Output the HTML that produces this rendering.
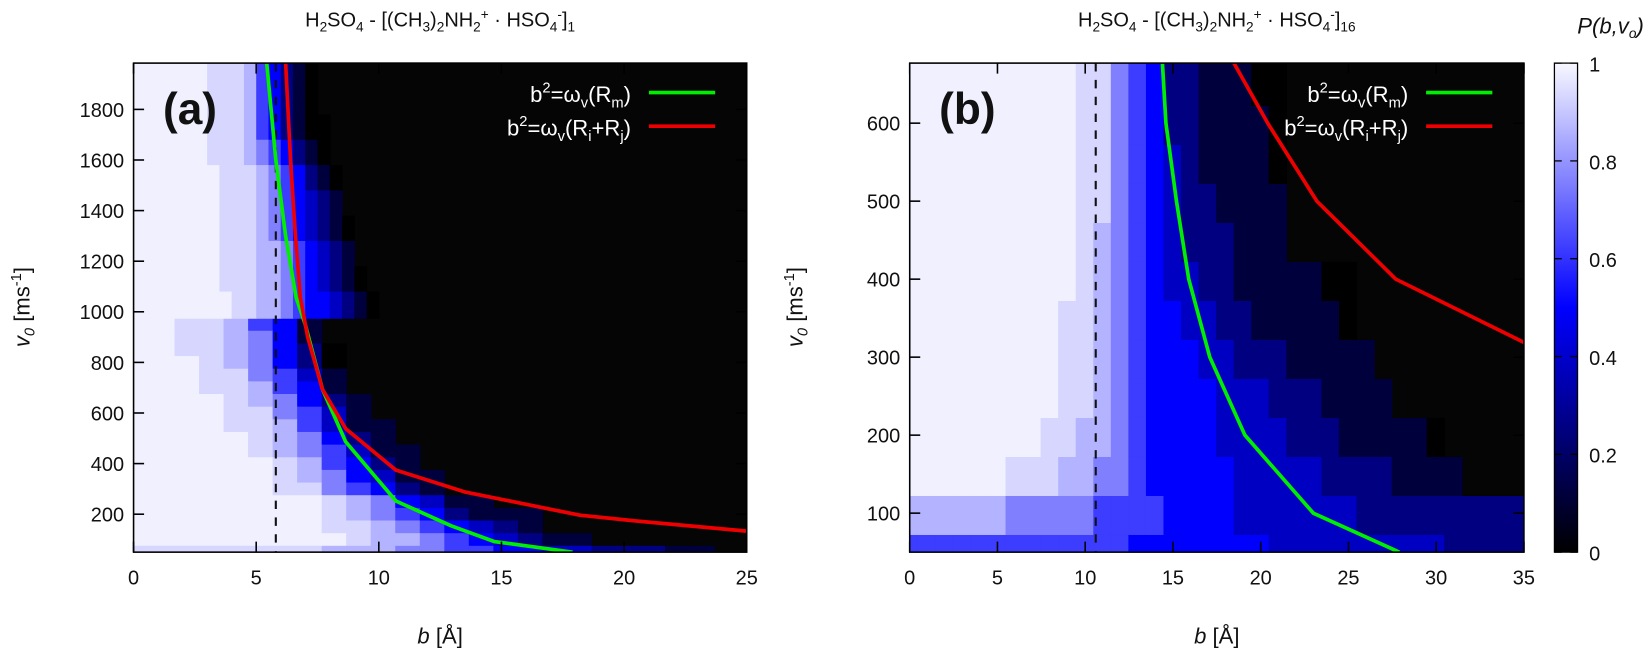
<!DOCTYPE html>
<html><head><meta charset="utf-8"><style>
html,body{margin:0;padding:0;background:#fff;overflow:hidden;}
svg{display:block;font-family:"Liberation Sans",Arial,sans-serif;}
</style></head><body>
<svg id="fig" width="1649" height="662" viewBox="0 0 1649 662" xmlns="http://www.w3.org/2000/svg">
<defs>
<clipPath id="clipA"><rect x="127" y="60" width="583" height="465"/></clipPath>
<clipPath id="clipB"><rect x="865" y="60" width="584" height="465"/></clipPath>
<linearGradient id="cbGrad" x1="0" y1="1" x2="0" y2="0">
<stop offset="0" stop-color="#000"/><stop offset="0.5" stop-color="#0000ff"/><stop offset="1" stop-color="#f8f8ff"/>
</linearGradient>
</defs>
<g transform="scale(1.0517)">
<g id="panelA"></g>
<g id="panelB"></g>
<g id="cbar"></g>
</g>
</svg>
<script>
// ---------- Panel (a) data ----------
const aLowEdges=[975,925,875,825,775,725,675,625,575,525,475,425,375,325,275,225,175,125,75,50];
const aLowRows=[
"99887541","99887641","998876420","999876420","999886531","999887541",
"9999876421","9999886531","99998875311","99999876421","999998765311",
"999999875421","9999998764311","9999998865421","999999998764311",
"99999999876542111","99999999887654321","9999999998776543211",
"888888887776655443322211"];
const aUpEdges=[1983,1880,1780,1680,1580,1480,1380,1280,1180,1080,975];
const aUpRows=[
"999999888754210","999999888754210","9999998887542100","9999998887654210",
"99999998887654210","99999998887654321","999999988876543210","999999988877654321",
"9999999888776543210","99999999887765443210"];
const aGreenB=[5.43,5.8,6.2,6.63,7.0,7.7,8.65,10.7,12.95,14.7,17.9];
const aGreenV=[1983,1600,1300,1056,950,694,486,252,154,92,50];
const aRedB=[6.2,6.4,6.6,6.8,7.1,7.7,8.65,10.7,13.5,18.2,20.3,25];
const aRedV=[1983,1600,1300,1056,900,694,538,374,288,196,175,133];
const aXTicks=[0,5,10,15,20,25];
const aYTicks=[200,400,600,800,1000,1200,1400,1600,1800];
// ---------- Panel (b) data ----------
const bEdges=[677,622,572,522,472,422,372,322,272,222,172,122,72,50];
const bRows=[
"9999999999886542211100","9999999999886542211110","9999999999886543211110",
"9999999999886543221111","9999999999876543222111","99999999998765433221111100",
"99999999988765443322111110","999999999887654443322211111","9999999998876544443332221111",
"9999999988776544443333222111110","99999988877665444443333322221111",
"7777776666655554444333333322222222222","5555555555555444444443333333333222222"];
const bGreenB=[14.4,14.6,15.2,15.9,17.1,19.1,23.0,27.9];
const bGreenV=[677,600,500,400,300,200,100,50];
const bRedB=[17.9,20.4,23.2,27.7,36.7];
const bRedV=[700,600,500,400,300];
const bXTicks=[0,5,10,15,20,25,30,35];
const bYTicks=[100,200,300,400,500,600];
const cbTicks=[0,0.2,0.4,0.6,0.8,1];
const levels=[0,0.12,0.25,0.38,0.5,0.62,0.75,0.85,0.92,0.97];

const NS="http://www.w3.org/2000/svg";
function mk(parent,tag,attrs,text){const e=document.createElementNS(NS,tag);for(const k in attrs)e.setAttribute(k,attrs[k]);if(text!==undefined)e.textContent=text;parent.appendChild(e);return e;}
function col(d){const p=levels[d];let r,g,b;if(p<0.5){r=0;g=0;b=Math.round(510*p);}else{r=g=Math.round(510*(p-0.5));b=255;}return `rgb(${r},${g},${b})`;}

function panel(gid,clip,P){
  const g=document.getElementById(gid);
  const xs=b=>P.x0+(b-P.bmin)/(P.bmax-P.bmin)*(P.x1-P.x0);
  const ys=v=>P.y1-(v-P.vmin)/(P.vmax-P.vmin)*(P.y1-P.y0);
  const hm=mk(g,'g',{'clip-path':`url(#${clip})`});
  
  
  mk(hm,'rect',{x:P.x0,y:P.y0,width:P.x1-P.x0,height:P.y1-P.y0,fill:'#050505'});
  P.grids.forEach(gr=>{
    gr.rows.forEach((s,i)=>{
      const ya=ys(gr.edges[i]),yb=ys(gr.edges[i+1]);
      for(let j=0;j<s.length;j++){
        const xa=xs(gr.start+j*gr.w),xb=xs(gr.start+(j+1)*gr.w);
        const c=mk(hm,'rect',{x:xa,y:ya,width:xb-xa+0.6,height:yb-ya+0.6,fill:col(+s[j])});
        
        
      }
    });
  });
  const dl=mk(hm,'line',{x1:xs(P.dash),x2:xs(P.dash),y1:P.y0,y2:P.y1,stroke:'#111','stroke-width':2,'stroke-dasharray':'8,8'});
  
  
  const gpts=P.gB.map((b,i)=>xs(b)+','+ys(P.gV[i])).join(' ');
  const gl=mk(hm,'polyline',{points:gpts,fill:'none',stroke:'#00ee00','stroke-width':3.5,'stroke-linejoin':'round'});
  
  
  const rpts=P.rB.map((b,i)=>xs(b)+','+ys(P.rV[i])).join(' ');
  const rl=mk(hm,'polyline',{points:rpts,fill:'none',stroke:'#ee0000','stroke-width':3.5,'stroke-linejoin':'round'});
  
  
  const fr=mk(g,'rect',{x:P.x0,y:P.y0,width:P.x1-P.x0,height:P.y1-P.y0,fill:'none',stroke:'#000','stroke-width':1.5});
  
  
  P.xt.forEach(t=>{const x=xs(t);
    mk(g,'line',{x1:x,x2:x,y1:P.y1,y2:P.y1-10,stroke:'#000','stroke-width':1.5});
    mk(g,'line',{x1:x,x2:x,y1:P.y0,y2:P.y0+10,stroke:'#000','stroke-width':1.5});
    const tl=mk(g,'text',{x:x,y:P.y1+31,'font-size':19,'text-anchor':'middle',fill:'#111'},String(t));
    
    });
  P.yt.forEach(t=>{const y=ys(t);
    mk(g,'line',{x1:P.x0,x2:P.x0+10,y1:y,y2:y,stroke:'#000','stroke-width':1.5});
    mk(g,'line',{x1:P.x1,x2:P.x1-10,y1:y,y2:y,stroke:'#000','stroke-width':1.5});
    const tl=mk(g,'text',{x:P.x0-9,y:y+7,'font-size':19,'text-anchor':'end',fill:'#111'},String(t));
    
    });
  const cx=(P.x0+P.x1)/2;
  const xt=mk(g,'text',{x:cx,y:612,'font-size':21,'text-anchor':'middle',fill:'#111'});
  xt.innerHTML='<tspan font-style="italic">b</tspan> [Å]';
  
  
  const yt=mk(g,'text',{transform:`translate(${P.ylx},292) rotate(-90)`,'font-size':21,'text-anchor':'middle',fill:'#111'});
  yt.innerHTML='<tspan font-style="italic">v</tspan><tspan font-style="italic" font-size="14" dy="5">0</tspan><tspan dy="-5"> [ms</tspan><tspan font-size="14" dy="-8">-1</tspan><tspan dy="8">]</tspan>';
  
  
  const ti=mk(g,'text',{x:cx,y:25,'font-size':19,'text-anchor':'middle',fill:'#111'});
  ti.innerHTML='H<tspan font-size="13" dy="5">2</tspan><tspan dy="-5">SO</tspan><tspan font-size="13" dy="5">4</tspan><tspan dy="-5"> - [(CH</tspan><tspan font-size="13" dy="5">3</tspan><tspan dy="-5">)</tspan><tspan font-size="13" dy="5">2</tspan><tspan dy="-5">NH</tspan><tspan font-size="13" dy="5">2</tspan><tspan font-size="13" dy="-12">+</tspan><tspan dy="7"> · HSO</tspan><tspan font-size="13" dy="5">4</tspan><tspan font-size="13" dy="-12">-</tspan><tspan dy="7">]</tspan><tspan font-size="13" dy="5">'+P.sub+'</tspan>';
  
  
  const pl=mk(g,'text',{x:P.x0+28,y:118,'font-size':42,'font-weight':'bold',fill:'#111'},P.lab);
  
  
  const l1=mk(g,'text',{x:P.x1-110,y:97,'font-size':21,'text-anchor':'end',fill:'#fff'});
  l1.innerHTML='b<tspan font-size="14" dy="-9">2</tspan><tspan dy="9">=ω</tspan><tspan font-size="14" dy="5">v</tspan><tspan dy="-5">(R</tspan><tspan font-size="14" dy="5">m</tspan><tspan dy="-5">)</tspan>';
  
  
  mk(g,'line',{x1:P.x1-93,x2:P.x1-30,y1:88,y2:88,stroke:'#00ee00','stroke-width':3.5});
  const l2=mk(g,'text',{x:P.x1-110,y:129,'font-size':21,'text-anchor':'end',fill:'#fff'});
  l2.innerHTML='b<tspan font-size="14" dy="-9">2</tspan><tspan dy="9">=ω</tspan><tspan font-size="14" dy="5">v</tspan><tspan dy="-5">(R</tspan><tspan font-size="14" dy="5">i</tspan><tspan dy="-5">+R</tspan><tspan font-size="14" dy="5">j</tspan><tspan dy="-5">)</tspan>';
  
  
  mk(g,'line',{x1:P.x1-93,x2:P.x1-30,y1:120,y2:120,stroke:'#ee0000','stroke-width':3.5});
}

panel('panelA','clipA',{x0:127,x1:710,y0:60,y1:525,bmin:0,bmax:25,vmin:50,vmax:1983,
  grids:[{edges:aLowEdges,rows:aLowRows,start:-0.33,w:1},{edges:aUpEdges,rows:aUpRows,start:0,w:0.5}],
  dash:5.8,gB:aGreenB,gV:aGreenV,rB:aRedB,rV:aRedV,xt:aXTicks,yt:aYTicks,ylx:28,sub:'1',lab:'(a)'});
panel('panelB','clipB',{x0:865,x1:1449,y0:60,y1:525,bmin:0,bmax:35,vmin:50,vmax:677,
  grids:[{edges:bEdges,rows:bRows,start:-0.54,w:1}],
  dash:10.6,gB:bGreenB,gV:bGreenV,rB:bRedB,rV:bRedV,xt:bXTicks,yt:bYTicks,ylx:763,sub:'16',lab:'(b)'});

(function(){
  const g=document.getElementById('cbar');
  const x0=1478,x1=1500,y0=60,y1=525;
  const r=mk(g,'rect',{x:x0,y:y0,width:x1-x0,height:y1-y0,fill:'url(#cbGrad)',stroke:'#000','stroke-width':1.2});
  
  
  cbTicks.forEach(t=>{const y=y1-t*(y1-y0);
    mk(g,'line',{x1:x0,x2:x0+7,y1:y,y2:y,stroke:'#000','stroke-width':1.2});
    mk(g,'line',{x1:x1-7,x2:x1,y1:y,y2:y,stroke:'#000','stroke-width':1.2});
    const tl=mk(g,'text',{x:1511,y:y+8,'font-size':19,fill:'#111'},String(t));
    
    });
  const ti=mk(g,'text',{x:1563,y:32,'font-size':21,'font-style':'italic','text-anchor':'end',fill:'#111'});
  ti.innerHTML='P(b,v<tspan font-size="13" dy="4">o</tspan><tspan dy="-4">)</tspan>';
  
  
})();
</script>
</body></html>
